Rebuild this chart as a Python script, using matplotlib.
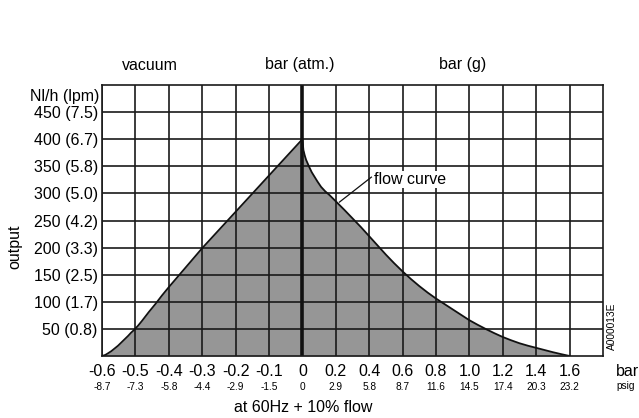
import matplotlib
matplotlib.use("Agg")
import matplotlib.pyplot as plt
import numpy as np

plt.rcParams['font.family'] = ['Liberation Sans', 'DejaVu Sans']

# Data (pressure in bar, output in Nl/h)
pressure_bar = [-0.6, -0.59, -0.582, -0.572, -0.562, -0.552, -0.542, -0.532, -0.522, -0.513,
                -0.504, -0.492, -0.48, -0.46, -0.44, -0.42, -0.4, -0.3, 0.0,
                0.006, 0.014, 0.022, 0.032, 0.042, 0.056, 0.072, 0.09, 0.112, 0.136,
                0.162, 0.198, 0.25, 0.3, 0.35, 0.4, 0.45, 0.5, 0.55, 0.6, 0.65,
                0.7, 0.75, 0.8, 0.85, 0.9, 0.95, 1.0, 1.05, 1.1, 1.15, 1.2, 1.25,
                1.3, 1.35, 1.4, 1.45, 1.5, 1.55, 1.6]
flow_nlh = [0, 2, 5, 9, 14, 19, 25, 31, 37, 43,
            48, 56, 65, 81, 96, 112, 127, 199, 400,
            380, 370, 362, 355, 348, 339, 331, 322, 312, 304,
            297, 286, 270, 254, 238, 221, 204, 187, 171, 156, 142,
            129, 117, 106, 96, 86, 76, 66, 57.5, 49.5, 42, 35, 29,
            23.5, 19, 15, 11, 7, 3.4, 0]

x_ticks = [-0.6, -0.5, -0.4, -0.3, -0.2, -0.1, 0, 0.2, 0.4, 0.6, 0.8, 1.0, 1.2, 1.4, 1.6]
x_bar_labels = ['-0.6', '-0.5', '-0.4', '-0.3', '-0.2', '-0.1', '0', '0.2', '0.4', '0.6',
                '0.8', '1.0', '1.2', '1.4', '1.6']
x_psi_labels = ['-8.7', '-7.3', '-5.8', '-4.4', '-2.9', '-1.5', '0', '2.9', '5.8', '8.7',
                '11.6', '14.5', '17.4', '20.3', '23.2']
y_ticks = [50, 100, 150, 200, 250, 300, 350, 400, 450]
y_labels = ['50 (0.8)', '100 (1.7)', '150 (2.5)', '200 (3.3)', '250 (4.2)',
            '300 (5.0)', '350 (5.8)', '400 (6.7)', '450 (7.5)']


def fwd(x):
    x = np.asarray(x, dtype=float)
    return np.where(x < 0, x * 10.0, x * 5.0)


def inv(c):
    c = np.asarray(c, dtype=float)
    return np.where(c < 0, c / 10.0, c / 5.0)


fig = plt.figure(figsize=(6.39, 4.18), dpi=100)
ax = fig.add_axes([102 / 639, 1 - 356 / 418, 501 / 639, 271 / 418])
ax.set_xscale('function', functions=(fwd, inv))
ax.set_xlim(-0.6, 1.8)
ax.set_ylim(0, 500)

ax.fill_between(pressure_bar, flow_nlh, 0, color='#969696', lw=0, zorder=1)
ax.plot(pressure_bar, flow_nlh, color='#111111', lw=1.3, zorder=3,
        solid_joinstyle='round')

# grid
grid_x = [-0.6, -0.5, -0.4, -0.3, -0.2, -0.1, 0.2, 0.4, 0.6, 0.8, 1.0, 1.2, 1.4, 1.6]
for gx in grid_x:
    ax.axvline(gx, color='#1a1a1a', lw=1.2, zorder=2.5)
for gy in y_ticks:
    ax.axhline(gy, color='#1a1a1a', lw=1.2, zorder=2.5)
ax.axvline(0, color='#111111', lw=2.6, zorder=3.5)

for s in ax.spines.values():
    s.set_color('#1a1a1a')
    s.set_linewidth(1.2)
    s.set_zorder(4)

ax.xaxis.remove_overlapping_locs = False
ax.set_xticks(x_ticks)
ax.set_xticklabels(x_bar_labels, fontsize=11.5)
ax.set_xticks(x_ticks, minor=True)
ax.set_xticklabels(x_psi_labels, minor=True, fontsize=7.3)
ax.tick_params(axis='x', which='major', length=0, pad=6)
ax.tick_params(axis='x', which='minor', length=0, pad=19)

ax.set_yticks(y_ticks)
ax.set_yticklabels(y_labels, fontsize=11.5)
ax.tick_params(axis='y', length=0, pad=3)

# annotations
fig.text(99 / 639, 1 - 97 / 418, 'Nl/h (lpm)', ha='right', va='center', fontsize=11.5)
fig.text(150 / 639, 1 - 65 / 418, 'vacuum', ha='center', va='center', fontsize=11.5)
fig.text(300 / 639, 1 - 65 / 418, 'bar (atm.)', ha='center', va='center', fontsize=11.5)
fig.text(463 / 639, 1 - 65 / 418, 'bar (g)', ha='center', va='center', fontsize=11.5)
fig.text(15 / 639, 1 - 247 / 418, 'output', ha='center', va='center', rotation=90, fontsize=11.5)
fig.text(303 / 639, 1 - 407 / 418, 'at 60Hz + 10% flow', ha='center', va='center', fontsize=11.5)
fig.text(616 / 639, 1 - 372 / 418, 'bar', ha='left', va='center', fontsize=11.5)
fig.text(616 / 639, 1 - 386 / 418, 'psig', ha='left', va='center', fontsize=7.3)
fig.text(612 / 639, 1 - 326 / 418, 'A000013E', ha='center', va='center', rotation=90, fontsize=7.3)

leader_x = [0.222, 0.413]
leader_y = [284, 330]
ax.plot(leader_x, leader_y, color='#111111', lw=0.9, zorder=5)
ax.text(0.428, 326, 'flow curve', fontsize=11.5, ha='left', va='center', zorder=5,
        bbox=dict(boxstyle='square,pad=0.08', fc='white', ec='none'))

fig.savefig('out.png', dpi=100)
